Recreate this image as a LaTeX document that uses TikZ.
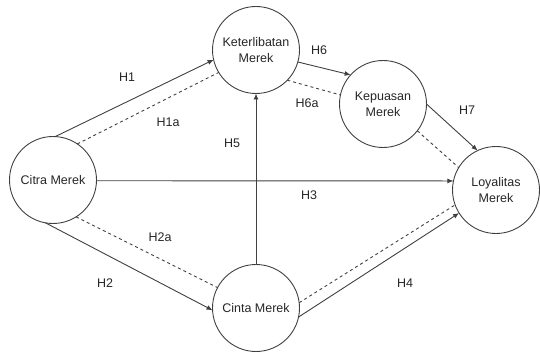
\documentclass[tikz,border=0pt]{standalone}
\usepackage{fontspec}
\setmainfont{Liberation Sans}
\usetikzlibrary{arrows.meta}
\begin{document}
\begin{tikzpicture}[x=1pt,y=-1pt,
  var/.style={circle,draw=black!75,line width=0.9pt,minimum size=87pt,inner sep=0pt,outer sep=0pt,align=center,font=\fontsize{12.5}{16}\selectfont,text=black!85},
  lbl/.style={font=\fontsize{12.5}{15}\selectfont,text=black!85,inner sep=0pt},
  arr/.style={draw=black!75,line width=0.9pt,-{Latex[length=6pt,width=5pt]}},
  dsh/.style={draw=black!75,line width=0.9pt,dash pattern=on 3pt off 3pt}]
\useasboundingbox (0,0) rectangle (540,355);
\node[var] (cit) at (53,180) {Citra Merek};
\node[var] (ket) at (256,50) {Keterlibatan\\Merek};
\node[var] (kep) at (383,104) {Kepuasan\\Merek};
\node[var] (loy) at (496,190) {Loyalitas\\Merek};
\node[var] (cin) at (256,308) {Cinta Merek};
\draw[arr] (cit.87) -- (ket.193);
\draw[dsh] (cit.56) -- (ket.211);
\draw[arr] (cit.-1) -- (loy.168);
\draw[arr] (cit.-100) -- (cin.183);
\draw[dsh] (cit.-58) -- (cin.152);
\draw[arr] (cin.90) -- (ket.-90);
\draw[arr] (ket.-16) -- (kep.138);
\draw[dsh] (ket.-44) -- (kep.168);
\draw[arr] (kep.0) -- (loy.115);
\draw[dsh] (kep.-38) -- (loy.149);
\draw[dsh] (cin.7) -- (loy.200);
\draw[arr] (cin.-12) -- (loy.212);
\node[lbl] (h1) at (127,77) {H1};
\node[lbl] (h1a) at (168,122) {H1a};
\node[lbl] (h5) at (232,143) {H5};
\node[lbl] (h6) at (319,50) {H6};
\node[lbl] (h6a) at (307,103) {H6a};
\node[lbl] (h7) at (467,110) {H7};
\node[lbl] (h3) at (309,195) {H3};
\node[lbl] (h2a) at (160,237) {H2a};
\node[lbl] (h2) at (105,283) {H2};
\node[lbl] (h4) at (405,283) {H4};
\end{tikzpicture}
\end{document}
